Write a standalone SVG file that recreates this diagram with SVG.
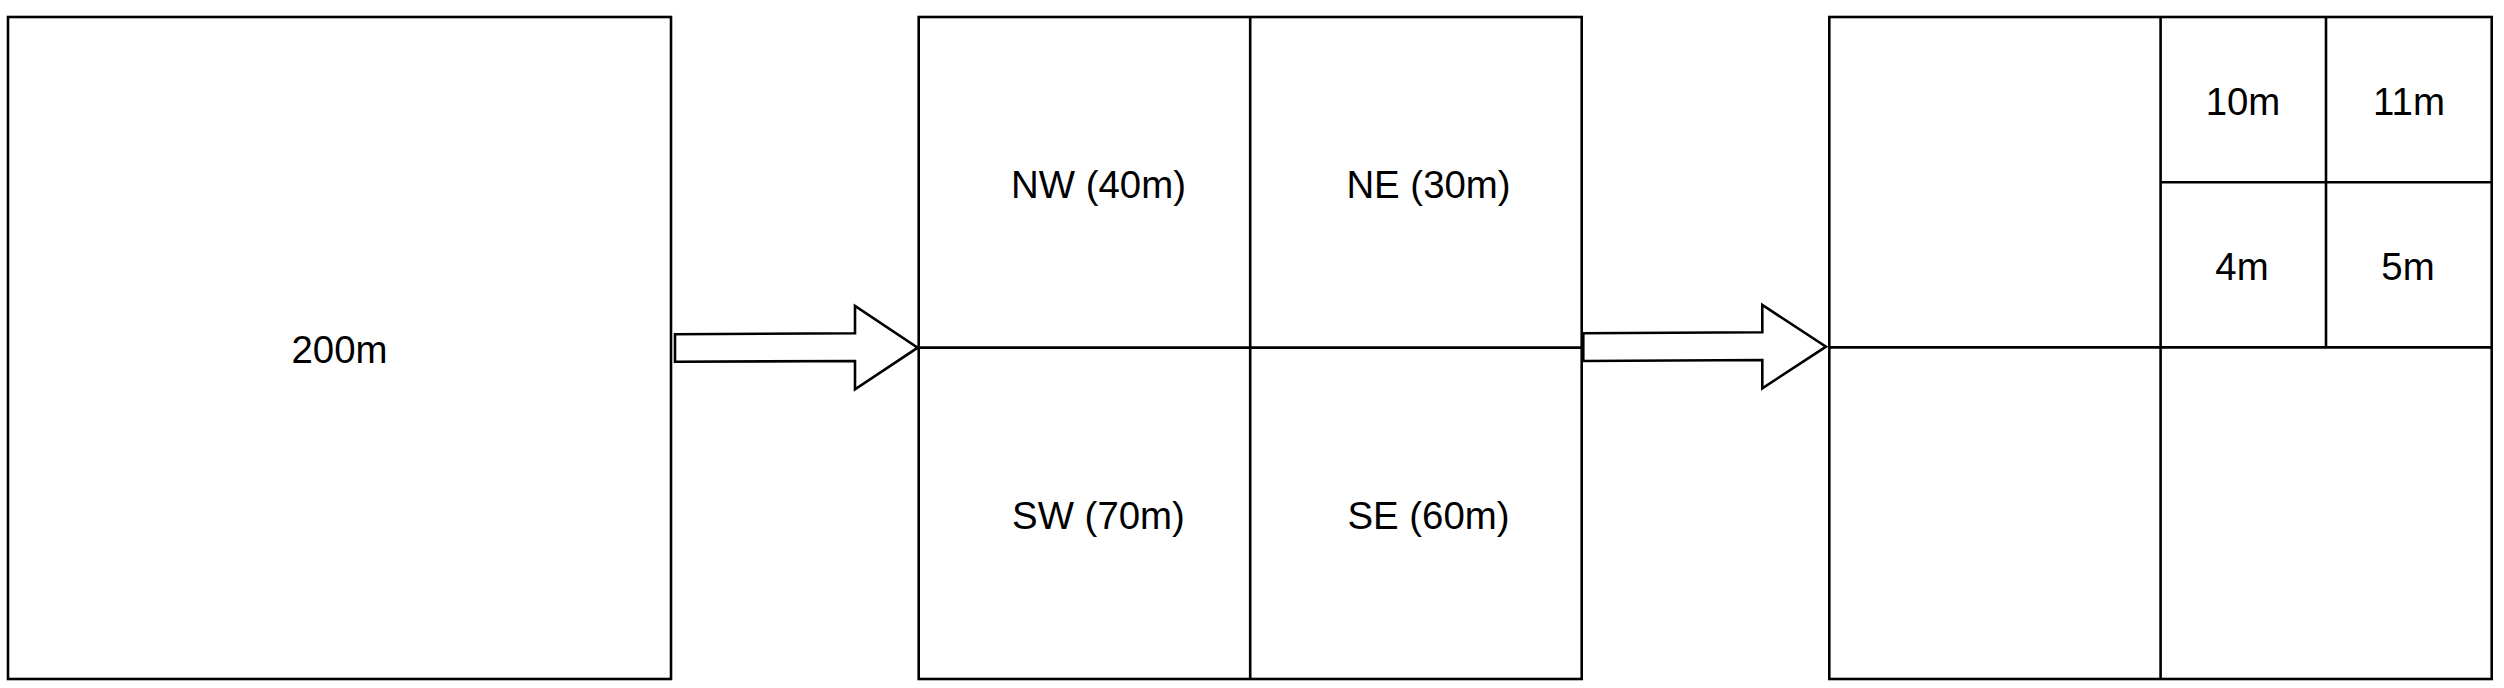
<svg xmlns="http://www.w3.org/2000/svg" width="2504" height="688" viewBox="0 0 2504 688">
<style>
.box{fill:#fff;stroke:#000;stroke-width:2.6}
.ln{fill:none;stroke:#000;stroke-width:2.6}
.arr{fill:#fff;stroke:#000;stroke-width:2.6;stroke-linejoin:miter}
.t{font-family:"Liberation Sans",Arial,Helvetica,sans-serif;font-size:38.4px;fill:#000;text-anchor:middle}
</style>
<rect width="2504" height="688" fill="#fff"/>
<g id="area-200m">
<rect class="box" x="8" y="17" width="663" height="662"/>
<text class="t" x="339.5" y="363.3">200m</text>
</g>
<g id="quadrants">
<rect class="box" x="918.7" y="17" width="663" height="662"/>
<line class="ln" x1="1250.2" y1="17" x2="1250.2" y2="679"/>
<line class="ln" x1="918.7" y1="347.6" x2="1581.7" y2="347.6"/>
<text class="t" x="1098.5" y="197.5">NW (40m)</text>
<text class="t" x="1428.5" y="197.5">NE (30m)</text>
<text class="t" x="1098.5" y="528.5">SW (70m)</text>
<text class="t" x="1428.5" y="528.5">SE (60m)</text>
</g>
<g id="subquadrants">
<rect class="box" x="1829.3" y="17" width="662.4" height="662"/>
<line class="ln" x1="2160.6" y1="17" x2="2160.6" y2="679"/>
<line class="ln" x1="1829.3" y1="347.4" x2="2491.7" y2="347.4"/>
<line class="ln" x1="2326" y1="17" x2="2326" y2="347.4"/>
<line class="ln" x1="2160.6" y1="182.3" x2="2491.7" y2="182.3"/>
<text class="t" x="2243" y="115">10m</text>
<text class="t" x="2409" y="115">11m</text>
<text class="t" x="2242" y="280">4m</text>
<text class="t" x="2408" y="280">5m</text>
</g>
<g id="connectors">
<polygon class="arr" points="675,334.3 855,333.3 855,306 917.7,347.7 855,389.3 855,361 675,361.7"/>
<polygon class="arr" points="1583.3,333.3 1762.3,332.3 1762.3,305 1826,346.7 1762.3,388.3 1762.3,360 1583.3,361"/>
</g>
</svg>
